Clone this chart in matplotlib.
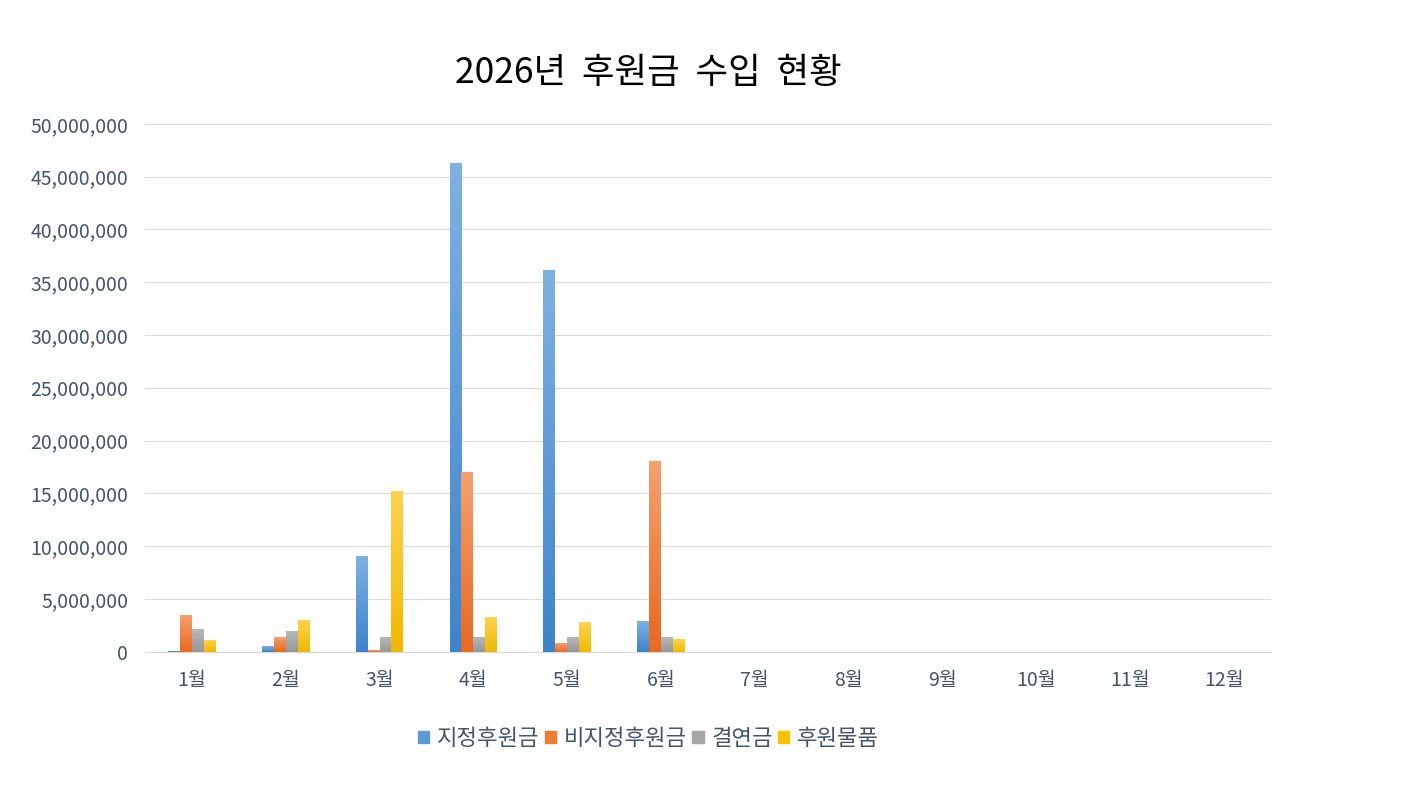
import numpy as np
import matplotlib.pyplot as plt
import matplotlib.colors as mcolors
from matplotlib.ticker import FuncFormatter

plt.rcParams['font.family'] = ['Noto Sans CJK KR', 'DejaVu Sans']

# ── data ──────────────────────────────────────────────────────────────
months = ["1월", "2월", "3월", "4월", "5월", "6월",
          "7월", "8월", "9월", "10월", "11월", "12월"]
series_names = ["지정후원금", "비지정후원금", "결연금", "후원물품"]

designated = [100000, 520000, 9050000, 46300000, 36200000, 2900000, 0, 0, 0, 0, 0, 0]
undesignated = [3460000, 1370000, 150000, 17000000, 800000, 18050000, 0, 0, 0, 0, 0, 0]
sponsorship = [2130000, 1940000, 1370000, 1370000, 1370000, 1370000, 0, 0, 0, 0, 0, 0]
goods = [1090000, 2990000, 15200000, 3270000, 2800000, 1180000, 0, 0, 0, 0, 0, 0]

series = [designated, undesignated, sponsorship, goods]
# (top colour, bottom colour) for the Excel-like gradient
colors = [("#7fb1e2", "#3d84cb"),
          ("#f4a071", "#e8691f"),
          ("#b8b8b8", "#979797"),
          ("#ffd34d", "#f0b800")]
legend_colors = ["#5b9bd5", "#ed7d31", "#a5a5a5", "#ffc000"]

fig = plt.figure(figsize=(14.01, 7.89), dpi=100)
ax = fig.add_axes([0.1035, 0.174, 0.8035, 0.669])

x = np.arange(len(months))
width = 0.127
offsets = (np.arange(4) - 1.5) * width

grad = np.linspace(0, 1, 256).reshape(-1, 1)
for vals, (top, bottom), off in zip(series, colors, offsets):
    cmap = mcolors.LinearSegmentedColormap.from_list("g", [bottom, top])
    bars = ax.bar(x + off, vals, width=width, color=bottom, zorder=2)
    for b in bars:
        h = b.get_height()
        if h <= 0:
            continue
        im = ax.imshow(grad, cmap=cmap, aspect="auto", origin="lower",
                       extent=[b.get_x(), b.get_x() + b.get_width(), 0, h],
                       zorder=3)
        im.set_clip_path(b)

ax.set_xlim(-0.5, 11.5)
ax.set_ylim(0, 50000000)
ax.set_yticks(np.arange(0, 50000001, 5000000))
ax.yaxis.set_major_formatter(FuncFormatter(lambda v, p: f"{int(v):,}"))
ax.set_xticks(x)
ax.set_xticklabels(months)

ax.grid(axis="y", color="#d9d9d9", linewidth=0.8, zorder=0)
for side in ["top", "right", "left"]:
    ax.spines[side].set_visible(False)
ax.spines["bottom"].set_color("#d9d9d9")
ax.tick_params(axis="both", length=0, labelsize=14, colors="#44546a")
ax.tick_params(axis="x", pad=13)
ax.tick_params(axis="y", pad=12)

fig.text(0.4625, 0.908, "2026년  후원금  수입  현황", ha="center", va="center",
         fontsize=25.5, color="black")

handles = [plt.Rectangle((0, 0), 1, 1, color=c) for c in legend_colors]
fig.legend(handles, series_names, loc="center", bbox_to_anchor=(0.463, 0.064),
           ncol=4, frameon=False, fontsize=16, handlelength=0.5, handleheight=0.5,
           handletextpad=0.35, columnspacing=0.25, labelcolor="#44546a")

fig.savefig("out.png", dpi=100)
